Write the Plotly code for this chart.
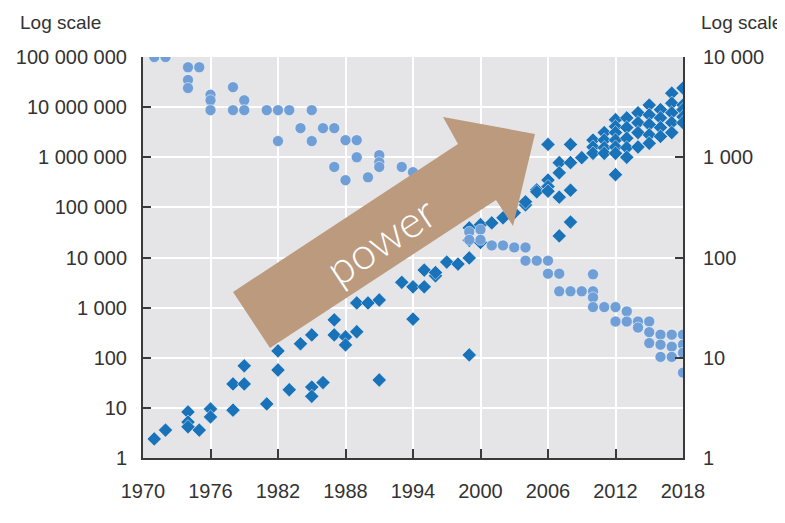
import plotly.graph_objects as go

# 다이아몬드 시리즈 (왼쪽 축)
dia_years = [
    1971, 1972, 1974, 1974, 1974, 1975, 1976, 1976, 1978, 1978, 1979, 1979,
    1981, 1982, 1982, 1983, 1984, 1985, 1985, 1985, 1986, 1987, 1987, 1988, 1988,
    1989, 1989, 1990, 1991, 1991, 1993, 1994, 1994, 1995, 1995, 1996, 1996, 1997, 1998,
    1999, 1999, 1999, 1999, 2000, 2000, 2001, 2002, 2003, 2004, 2004,
    2005, 2005, 2006, 2006, 2006, 2006, 2007, 2007, 2007, 2007,
    2008, 2008, 2008, 2008, 2009, 2010, 2010, 2010,
    2011, 2011, 2011, 2011, 2012, 2012, 2012, 2012, 2012, 2012, 2012,
    2013, 2013, 2013, 2013, 2013, 2014, 2014, 2014, 2014,
    2015, 2015, 2015, 2015, 2015, 2016, 2016, 2016, 2016,
    2017, 2017, 2017, 2017, 2017, 2018, 2018, 2018, 2018, 2018,
]
dia_values = [
    2.4, 3.6, 8.3, 5.2, 4.2, 3.6, 9.5, 6.6, 9, 30, 30, 69,
    12, 137, 57, 23, 190, 285, 26, 17, 32, 570, 285, 260, 180,
    1240, 330, 1240, 1420, 36, 3200, 2600, 590, 5600, 2600, 4300, 5000, 8100, 7400,
    9800, 114, 22000, 39000, 45000, 20000, 49000, 62000, 78000, 112000, 129000,
    224000, 204000, 1.8e6, 350000, 260000, 210000, 780000, 490000, 160000, 27000,
    1.8e6, 780000, 220000, 51000, 980000, 2.2e6, 1.6e6, 1.2e6,
    3.1e6, 2.2e6, 1.55e6, 1.2e6, 5.6e6, 4.1e6, 3.1e6, 2.2e6, 1.6e6, 1.2e6, 450000,
    6.1e6, 3.9e6, 2.4e6, 1.55e6, 1.0e6, 7.7e6, 4.9e6, 3.1e6, 1.6e6,
    1.1e7, 7.0e6, 4.5e6, 2.8e6, 1.9e6, 8.9e6, 6.1e6, 3.9e6, 2.6e6,
    1.9e7, 1.2e7, 7.7e6, 4.9e6, 3.1e6, 2.4e7, 1.1e7, 8.9e6, 6.4e6, 4.9e6,
]

# 원형 시리즈 (오른쪽 축)
dot_years = [
    1971, 1972, 1974, 1974, 1974, 1975, 1976, 1976, 1976, 1978, 1978, 1979, 1979,
    1981, 1982, 1982, 1983, 1984, 1985, 1985, 1986, 1987, 1987, 1988, 1988,
    1989, 1989, 1990, 1991, 1991, 1991, 1993, 1994,
    1999, 1999, 2000, 2000, 2001, 2002, 2003, 2004, 2004, 2005, 2006, 2006,
    2007, 2007, 2008, 2009, 2010, 2010, 2010, 2010, 2011, 2012, 2012,
    2013, 2013, 2014, 2014, 2015, 2015, 2015, 2016, 2016, 2016,
    2017, 2017, 2017, 2018, 2018, 2018, 2018,
]
dot_values = [
    10000, 10000, 7900, 5900, 4900, 7900, 4200, 3700, 2950, 5000, 2950, 3700, 2950,
    2950, 2950, 1450, 2950, 1950, 2950, 1450, 1950, 1950, 800, 1480, 590,
    1480, 1000, 630, 1050, 890, 800, 800, 710,
    180, 150, 190, 150, 132, 132, 126, 126, 93, 93, 93, 69,
    69, 46, 46, 46, 68, 46, 40, 32, 32, 32, 23,
    29, 23, 23, 20, 23, 18, 14, 17, 13.5, 10.2,
    17, 12.9, 10.2, 17, 13.5, 11.2, 7.1,
]

left_tickvals = [1, 10, 100, 1e3, 1e4, 1e5, 1e6, 1e7, 1e8]
left_ticktext = ['1', '10', '100', '1 000', '10 000', '100 000',
                 '1 000 000', '10 000 000', '100 000 000']
right_tickvals = [1, 10, 100, 1e3, 1e4]
right_ticktext = ['1', '10', '100', '1 000', '10 000']
x_tickvals = [1970, 1976, 1982, 1988, 1994, 2000, 2006, 2012, 2018]

FONT = 'Liberation Sans, Arial, sans-serif'
AXIS_COLOR = '#3a3a3a'

# 화면 기준 플롯 영역 (픽셀) - 페이지 body 여백 8px 보정
PAD = 8
W, H = 785, 523
L, R, T, B = 143, 683, 57, 458


def to_paper(px, py):
    return (px - L) / (R - L), (B - py) / (B - T)


fig = go.Figure()

fig.add_trace(go.Scatter(
    x=dot_years, y=dot_values, yaxis='y2', mode='markers',
    marker=dict(symbol='circle', size=11, color='#6f9fd6',
                line=dict(color='rgba(255,255,255,0.5)', width=1)),
    showlegend=False, hoverinfo='skip'
))

fig.add_trace(go.Scatter(
    x=dia_years, y=dia_values, mode='markers',
    marker=dict(symbol='diamond', size=11, color='#1a73b8',
                line=dict(color='rgba(255,255,255,0.5)', width=1)),
    showlegend=False, hoverinfo='skip'
))

# 화살표
arrow_px = [(233, 292), (458, 144), (443, 117), (535, 134),
            (513, 226), (496, 200), (270, 348)]
pts = [to_paper(x, y) for x, y in arrow_px]
path = 'M ' + ' L '.join(f'{x:.4f},{y:.4f}' for x, y in pts) + ' Z'
fig.add_shape(type='path', path=path, xref='paper', yref='paper',
              fillcolor='#bc9a7e', line=dict(width=0), layer='above')

ax, ay = to_paper(380, 240)
fig.add_annotation(x=ax, y=ay, xref='paper', yref='paper', text='power',
                   showarrow=False, textangle=-33.4,
                   font=dict(family='Lato, sans-serif',
                             size=44, color='white', weight=300))

# 축 제목
for px in (18, 699):
    tx, ty = to_paper(px, 22)
    fig.add_annotation(x=tx, y=ty, xref='paper', yref='paper', text='Log scale',
                       showarrow=False, xanchor='left', yanchor='middle',
                       font=dict(family=FONT, size=19, color='#333333'))

fig.update_layout(
    width=W - PAD, height=H - PAD,
    margin=dict(l=L - PAD, r=W - R, t=T - PAD, b=H - B, autoexpand=False),
    paper_bgcolor='white',
    plot_bgcolor='#e5e5e7',
    font=dict(family=FONT, size=20, color='#333333'),
    xaxis=dict(
        range=[1970, 2018], tickvals=x_tickvals,
        showgrid=True, gridcolor='white', gridwidth=2,
        showline=True, linecolor=AXIS_COLOR, linewidth=2,
        ticks='inside', ticklen=9, tickwidth=2, tickcolor=AXIS_COLOR,
        ticklabelstandoff=14, zeroline=False, automargin=False,
    ),
    yaxis=dict(
        type='log', range=[0, 8],
        tickvals=left_tickvals, ticktext=left_ticktext,
        showgrid=True, gridcolor='white', gridwidth=2,
        showline=True, linecolor=AXIS_COLOR, linewidth=2,
        ticks='inside', ticklen=8, tickwidth=2, tickcolor=AXIS_COLOR,
        ticklabelstandoff=10, zeroline=False, automargin=False,
    ),
    yaxis2=dict(
        type='log', range=[0, 4], overlaying='y', side='right',
        tickvals=right_tickvals, ticktext=right_ticktext,
        showgrid=False,
        showline=True, linecolor=AXIS_COLOR, linewidth=2,
        ticks='inside', ticklen=8, tickwidth=2, tickcolor=AXIS_COLOR,
        ticklabelstandoff=14, zeroline=False, automargin=False,
    ),
)

fig.write_html("out.html")
